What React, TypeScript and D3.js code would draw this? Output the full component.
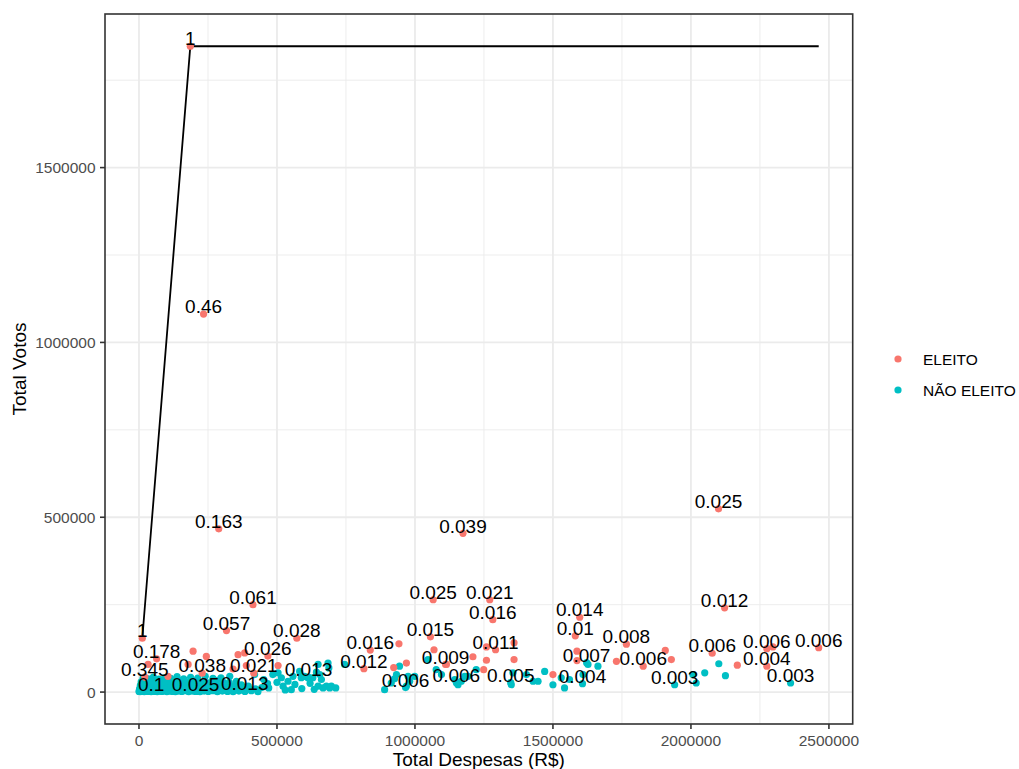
import React from "react";
import * as d3 from "d3";

// Categories (legend) and their ggplot default hues
const categories = ["ELEITO", "NÃO ELEITO"];
const categoryColors = ["#F8766D", "#00BFC4"];

// Axis tick values and labels
const xTickValues = [0, 500000, 1000000, 1500000, 2000000, 2500000];
const xTickLabels = ["0", "500000", "1000000", "1500000", "2000000", "2500000"];
const yTickValues = [0, 500000, 1000000, 1500000];
const yTickLabels = ["0", "500000", "1000000", "1500000"];

const xTitle = "Total Despesas (R$)";
const yTitle = "Total Votos";

// Labelled points: [despesas, votos, label, category index]
const labeled: [number, number, string, number][] = [
  [186e3, 1847e3, "1", 0],
  [234e3, 1081e3, "0.46", 0],
  [289e3, 467e3, "0.163", 0],
  [1174e3, 454e3, "0.039", 0],
  [2100e3, 524e3, "0.025", 0],
  [413e3, 250e3, "0.061", 0],
  [317e3, 176e3, "0.057", 0],
  [572e3, 154e3, "0.028", 0],
  [12e3, 154e3, "1", 0],
  [64e3, 95e3, "0.178", 0],
  [21e3, 43e3, "0.345", 0],
  [44e3, 2e3, "0.1", 1],
  [205e3, 2e3, "0.025", 1],
  [383e3, 3e3, "0.013", 1],
  [229e3, 54e3, "0.038", 0],
  [416e3, 54e3, "0.021", 0],
  [467e3, 103e3, "0.026", 0],
  [614e3, 43e3, "0.013", 1],
  [838e3, 120e3, "0.016", 0],
  [815e3, 67e3, "0.012", 0],
  [966e3, 13e3, "0.006", 1],
  [1066e3, 264e3, "0.025", 0],
  [1271e3, 264e3, "0.021", 0],
  [1282e3, 207e3, "0.016", 0],
  [1056e3, 158e3, "0.015", 0],
  [1292e3, 121e3, "0.011", 0],
  [1111e3, 79e3, "0.009", 0],
  [1150e3, 27e3, "0.006", 1],
  [1347e3, 27e3, "0.005", 1],
  [1597e3, 214e3, "0.014", 0],
  [1581e3, 161e3, "0.01", 0],
  [1622e3, 84e3, "0.007", 1],
  [1607e3, 24e3, "0.004", 1],
  [1766e3, 137e3, "0.008", 0],
  [1827e3, 74e3, "0.006", 0],
  [1941e3, 21e3, "0.003", 1],
  [2122e3, 241e3, "0.012", 0],
  [2077e3, 111e3, "0.006", 0],
  [2275e3, 124e3, "0.006", 0],
  [2463e3, 127e3, "0.006", 0],
  [2275e3, 74e3, "0.004", 0],
  [2361e3, 26e3, "0.003", 1],
];

// Other ELEITO points: [despesas, votos]
const eleito: [number, number][] = [
  [33e3, 79e3], [196e3, 117e3], [244e3, 102e3], [178e3, 79e3], [105e3, 45e3],
  [341e3, 66e3], [359e3, 107e3], [383e3, 112e3], [389e3, 76e3], [504e3, 76e3],
  [942e3, 138e3], [969e3, 83e3], [923e3, 70e3], [1069e3, 121e3], [1114e3, 79e3],
  [1210e3, 101e3], [1259e3, 129e3], [1259e3, 91e3], [1249e3, 64e3], [1359e3, 141e3],
  [1359e3, 93e3], [1500e3, 50e3], [1587e3, 117e3], [1587e3, 90e3], [1730e3, 88e3],
  [1907e3, 119e3], [1929e3, 93e3], [2168e3, 77e3], [2297e3, 129e3],
];

// Other NÃO ELEITO points: [despesas, votos]
const naoEleito: [number, number][] = [
  [0, 2e3], [4e3, 1e3], [9e3, 3e3], [14e3, 2e3], [19e3, 1e3], [25e3, 3e3], [31e3, 2e3], [37e3, 4e3],
  [44e3, 1e3], [51e3, 3e3], [58e3, 2e3], [66e3, 1e3], [74e3, 3e3], [83e3, 2e3], [92e3, 4e3], [101e3, 1e3],
  [111e3, 3e3], [121e3, 2e3], [132e3, 1e3], [143e3, 3e3], [155e3, 2e3], [167e3, 4e3], [180e3, 1e3],
  [193e3, 3e3], [207e3, 2e3], [221e3, 1e3], [236e3, 3e3], [251e3, 2e3], [267e3, 4e3], [284e3, 1e3],
  [302e3, 3e3], [321e3, 2e3], [341e3, 1e3], [362e3, 3e3], [384e3, 2e3], [407e3, 4e3], [431e3, 1e3],
  [2e3, 9e3], [7e3, 11e3], [13e3, 8e3], [20e3, 12e3], [27e3, 10e3], [35e3, 9e3], [43e3, 12e3], [52e3, 8e3],
  [61e3, 11e3], [71e3, 10e3], [81e3, 9e3], [92e3, 12e3], [104e3, 8e3], [116e3, 11e3], [129e3, 10e3],
  [142e3, 9e3], [156e3, 12e3], [170e3, 8e3], [185e3, 11e3], [200e3, 10e3], [216e3, 9e3], [233e3, 12e3],
  [250e3, 8e3], [268e3, 11e3], [287e3, 10e3], [307e3, 9e3], [328e3, 12e3], [350e3, 8e3], [373e3, 11e3],
  [397e3, 10e3], [422e3, 9e3],
  [5e3, 19e3], [12e3, 21e3], [21e3, 17e3], [30e3, 22e3], [40e3, 18e3], [50e3, 20e3], [62e3, 21e3],
  [74e3, 17e3], [87e3, 22e3], [100e3, 19e3], [114e3, 20e3], [128e3, 18e3], [143e3, 21e3], [158e3, 17e3],
  [174e3, 22e3], [190e3, 19e3], [207e3, 20e3], [224e3, 18e3], [242e3, 21e3], [261e3, 17e3], [281e3, 22e3],
  [302e3, 19e3], [324e3, 20e3], [347e3, 18e3], [371e3, 21e3], [396e3, 17e3],
  [8e3, 29e3], [18e3, 31e3], [29e3, 27e3], [41e3, 33e3], [54e3, 30e3], [68e3, 28e3], [82e3, 32e3],
  [97e3, 29e3], [112e3, 31e3], [128e3, 27e3], [145e3, 33e3], [162e3, 30e3], [180e3, 28e3], [198e3, 32e3],
  [217e3, 29e3], [237e3, 31e3], [258e3, 27e3], [280e3, 33e3], [303e3, 30e3], [327e3, 28e3],
  [15e3, 40e3], [33e3, 38e3], [52e3, 43e3], [72e3, 37e3], [93e3, 41e3], [115e3, 39e3], [138e3, 44e3],
  [162e3, 38e3], [187e3, 42e3], [213e3, 40e3], [240e3, 45e3], [268e3, 39e3], [297e3, 41e3],
  [329e3, 45e3], [353e3, 31e3], [419e3, 50e3], [452e3, 36e3], [466e3, 24e3], [445e3, 13e3],
  [470e3, 12e3], [500e3, 28e3], [530e3, 6e3], [565e3, 22e3], [590e3, 10e3], [620e3, 25e3], [635e3, 8e3],
  [485e3, 50e3], [504e3, 55e3], [516e3, 41e3], [522e3, 17e3], [540e3, 31e3], [552e3, 7e3], [558e3, 45e3],
  [582e3, 59e3], [588e3, 41e3], [600e3, 45e3], [612e3, 41e3], [630e3, 41e3], [643e3, 57e3], [649e3, 79e3],
  [655e3, 50e3], [661e3, 36e3], [649e3, 17e3], [667e3, 12e3], [679e3, 17e3], [685e3, 83e3], [688e3, 69e3],
  [691e3, 12e3], [697e3, 17e3], [713e3, 12e3], [745e3, 79e3],
  [890e3, 7e3], [914e3, 26e3], [933e3, 50e3], [944e3, 74e3], [926e3, 38e3], [969e3, 17e3], [981e3, 31e3],
  [999e3, 45e3], [975e3, 45e3], [1047e3, 93e3], [1077e3, 64e3], [1096e3, 50e3], [1168e3, 31e3],
  [1156e3, 21e3], [1144e3, 36e3], [1180e3, 45e3], [1192e3, 45e3], [1222e3, 64e3], [1349e3, 21e3],
  [1355e3, 55e3], [1404e3, 50e3], [1428e3, 31e3], [1446e3, 31e3], [1470e3, 59e3], [1500e3, 21e3],
  [1542e3, 12e3], [1560e3, 36e3], [1530e3, 41e3], [1609e3, 50e3], [1627e3, 79e3], [1663e3, 74e3],
  [2019e3, 26e3], [2007e3, 50e3], [2050e3, 55e3], [2101e3, 81e3], [2125e3, 47e3],
];

// Black reference line: [despesas, votos]
const linePath: [number, number][] = [
  [12e3, 154e3],
  [186e3, 1847e3],
  [2463e3, 1847e3],
];

const FONT = "'Liberation Sans', Arial, Helvetica, sans-serif";

export default function App() {
  const W = 1019;
  const H = 769;
  const panel = { left: 105, right: 852.7, top: 14, bottom: 724 };

  const allPts: [number, number][] = [
    ...eleito,
    ...naoEleito,
    ...labeled.map((d) => [d[0], d[1]] as [number, number]),
  ];
  const [xmin, xmax] = d3.extent(allPts, (d) => d[0]) as [number, number];
  const [ymin, ymax] = d3.extent(allPts, (d) => d[1]) as [number, number];
  const xPad = (xmax - xmin) * 0.05;
  const yPad = (ymax - ymin) * 0.05;

  const x = d3.scaleLinear().domain([xmin - xPad, xmax + xPad]).range([panel.left, panel.right]);
  const y = d3.scaleLinear().domain([ymin - yPad, ymax + yPad]).range([panel.bottom, panel.top]);

  const minorOf = (ticks: number[], dom: number[]) => {
    const step = ticks[1] - ticks[0];
    const res: number[] = [];
    [ticks[0] - step, ...ticks].forEach((t) => {
      const m = t + step / 2;
      if (m >= dom[0] && m <= dom[1]) res.push(m);
    });
    return res;
  };
  const xMinor = minorOf(xTickValues, x.domain());
  const yMinor = minorOf(yTickValues, y.domain());

  const line = d3
    .line<[number, number]>()
    .x((d) => x(d[0]))
    .y((d) => y(d[1]));

  const r = 3.6;
  const gridColor = "#EBEBEB";

  return (
    <svg
      width={W}
      height={H}
      style={{ position: "absolute", left: 0, top: 0, background: "#fff" }}
      fontFamily={FONT}
    >
      <rect x={0} y={0} width={W} height={H} fill="#fff" />
      {/* minor grid */}
      {xMinor.map((v) => (
        <line key={"xm" + v} x1={x(v)} x2={x(v)} y1={panel.top} y2={panel.bottom} stroke={gridColor} strokeWidth={0.9} />
      ))}
      {yMinor.map((v) => (
        <line key={"ym" + v} y1={y(v)} y2={y(v)} x1={panel.left} x2={panel.right} stroke={gridColor} strokeWidth={0.9} />
      ))}
      {/* major grid */}
      {xTickValues.map((v) => (
        <line key={"xM" + v} x1={x(v)} x2={x(v)} y1={panel.top} y2={panel.bottom} stroke={gridColor} strokeWidth={1.8} />
      ))}
      {yTickValues.map((v) => (
        <line key={"yM" + v} y1={y(v)} y2={y(v)} x1={panel.left} x2={panel.right} stroke={gridColor} strokeWidth={1.8} />
      ))}

      {/* line */}
      <path d={line(linePath) || ""} fill="none" stroke="#000" strokeWidth={1.8} />

      {/* points */}
      {naoEleito.map((d, i) => (
        <circle key={"n" + i} cx={x(d[0])} cy={y(d[1])} r={r} fill={categoryColors[1]} />
      ))}
      {labeled
        .filter((d) => d[3] === 1)
        .map((d, i) => (
          <circle key={"ln" + i} cx={x(d[0])} cy={y(d[1])} r={r} fill={categoryColors[1]} />
        ))}
      {eleito.map((d, i) => (
        <circle key={"e" + i} cx={x(d[0])} cy={y(d[1])} r={r} fill={categoryColors[0]} />
      ))}
      {labeled
        .filter((d) => d[3] === 0)
        .map((d, i) => (
          <circle key={"le" + i} cx={x(d[0])} cy={y(d[1])} r={r} fill={categoryColors[0]} />
        ))}

      {/* text labels */}
      {labeled.map((d, i) => (
        <text key={"t" + i} x={x(d[0])} y={y(d[1]) - 0.8} textAnchor="middle" fontSize={19} fill="#000">
          {d[2]}
        </text>
      ))}

      {/* panel border */}
      <rect
        x={panel.left}
        y={panel.top}
        width={panel.right - panel.left}
        height={panel.bottom - panel.top}
        fill="none"
        stroke="#333333"
        strokeWidth={1.6}
      />

      {/* x axis ticks */}
      {xTickValues.map((v, i) => (
        <g key={"xt" + v}>
          <line x1={x(v)} x2={x(v)} y1={panel.bottom} y2={panel.bottom + 5} stroke="#333333" strokeWidth={1.6} />
          <text x={x(v)} y={panel.bottom + 21.5} textAnchor="middle" fontSize={15.5} fill="#4D4D4D">
            {xTickLabels[i]}
          </text>
        </g>
      ))}
      {/* y axis ticks */}
      {yTickValues.map((v, i) => (
        <g key={"yt" + v}>
          <line x1={panel.left - 5} x2={panel.left} y1={y(v)} y2={y(v)} stroke="#333333" strokeWidth={1.6} />
          <text x={panel.left - 9.5} y={y(v) + 5.5} textAnchor="end" fontSize={15.5} fill="#4D4D4D">
            {yTickLabels[i]}
          </text>
        </g>
      ))}

      {/* axis titles */}
      <text x={(panel.left + panel.right) / 2} y={766} textAnchor="middle" fontSize={19} fill="#000">
        {xTitle}
      </text>
      <text
        transform={`translate(26, ${(panel.top + panel.bottom) / 2}) rotate(-90)`}
        textAnchor="middle"
        fontSize={19}
        fill="#000"
      >
        {yTitle}
      </text>

      {/* legend */}
      {categories.map((c, i) => (
        <g key={"lg" + c}>
          <circle cx={898} cy={359 + i * 31} r={3.6} fill={categoryColors[i]} />
          <text x={923} y={359 + i * 31 + 5.5} fontSize={15.5} fill="#000">
            {c}
          </text>
        </g>
      ))}
    </svg>
  );
}
